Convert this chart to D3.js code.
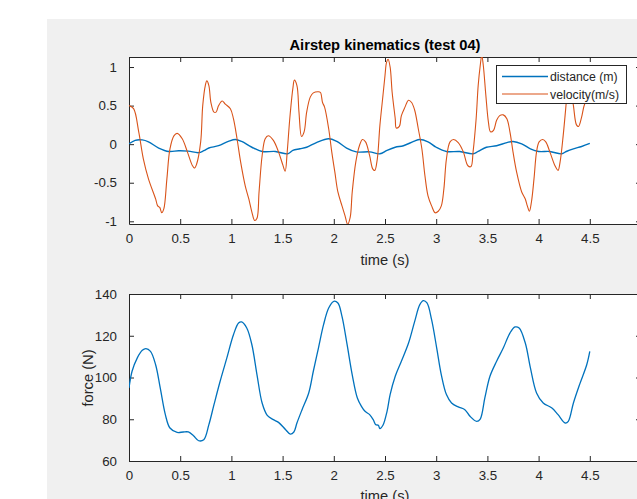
<!DOCTYPE html>
<html>
<head>
<meta charset="utf-8">
<script src="https://cdn.jsdelivr.net/npm/d3@7"></script>
<style>
  body { margin: 0; background: #fff; }
  svg { display: block; font-family: "Liberation Sans", Arial, sans-serif; }
</style>
</head>
<body>
<svg id="chart" width="637" height="499"></svg>
<script>
// velocity (m/s)
var velT = [0,0.045,0.095,0.14,0.19,0.26,0.28,0.30,0.32,0.34,0.37,0.40,0.44,0.47,0.52,0.57,0.62,0.64,0.66,0.70,
  0.72,0.745,0.76,0.78,0.80,0.83,0.85,0.875,0.91,0.94,0.99,1.02,1.055,1.09,1.135,1.17,1.20,1.227,1.25,1.27,
  1.30,1.33,1.36,1.41,1.46,1.50,1.525,1.545,1.57,1.60,1.615,1.64,1.66,1.685,1.71,1.735,1.77,1.80,1.85,1.87,
  1.89,1.91,1.95,1.98,2.01,2.04,2.08,2.11,2.135,2.16,2.18,2.215,2.25,2.28,2.31,2.35,2.38,2.40,2.425,2.45,
  2.48,2.50,2.515,2.53,2.55,2.57,2.60,2.61,2.64,2.66,2.695,2.73,2.76,2.79,2.825,2.86,2.89,2.92,2.955,2.99,
  3.02,3.05,3.075,3.10,3.135,3.17,3.215,3.265,3.31,3.34,3.36,3.39,3.41,3.43,3.445,3.46,3.485,3.51,3.53,3.56,
  3.59,3.62,3.655,3.69,3.72,3.75,3.785,3.835,3.87,3.89,3.91,3.93,3.955,3.98,4.005,4.04,4.07,4.11,4.16,4.19,
  4.21,4.24,4.27,4.29,4.31,4.34,4.37,4.39,4.42,4.45,4.50];
var velocity = [0.50,0.46,0.16,-0.19,-0.45,-0.71,-0.80,-0.82,-0.89,-0.84,-0.45,-0.06,0.11,0.14,0.07,-0.10,-0.28,-0.31,-0.26,0.03,
  0.50,0.76,0.82,0.76,0.54,0.415,0.415,0.50,0.56,0.52,0.46,0.33,0.07,-0.23,-0.54,-0.71,-0.88,-0.99,-0.96,-0.62,
  -0.15,0.07,0.11,0.05,-0.10,-0.26,-0.35,-0.10,0.33,0.72,0.83,0.76,0.415,0.10,0.16,0.415,0.61,0.665,0.68,0.67,
  0.54,0.48,0.20,-0.10,-0.36,-0.62,-0.80,-0.93,-1.04,-0.95,-0.62,-0.23,-0.02,0.06,0.03,-0.15,-0.32,-0.34,-0.19,0.24,
  0.63,0.89,1.06,1.10,1.00,0.67,0.33,0.21,0.23,0.37,0.48,0.57,0.54,0.44,0.20,-0.06,-0.41,-0.67,-0.80,-0.89,
  -0.87,-0.80,-0.58,-0.19,0.03,0.06,0.02,-0.10,-0.28,-0.29,-0.10,0.33,0.76,1.02,1.15,1.02,0.63,0.285,0.16,0.18,
  0.31,0.37,0.38,0.33,0.16,-0.10,-0.36,-0.62,-0.71,-0.80,-0.87,-0.75,-0.45,-0.10,0.03,0.06,0.03,-0.10,-0.28,-0.34,
  -0.23,0.11,0.54,0.85,0.75,0.50,0.25,0.23,0.35,0.52,0.62];

// distance (m), blue trace
var distT = [0,0.06,0.13,0.19,0.29,0.39,0.485,0.58,0.68,0.73,0.78,0.875,0.97,1.04,1.10,1.20,1.30,1.43,1.55,1.60,
  1.67,1.735,1.83,1.95,2.03,2.125,2.22,2.35,2.45,2.52,2.60,2.68,2.78,2.84,2.92,3.00,3.10,3.23,3.36,3.41,
  3.49,3.59,3.69,3.75,3.835,3.92,4.00,4.11,4.225,4.27,4.34,4.42,4.50];
var distance = [0.005,0.05,0.055,0.03,-0.05,-0.095,-0.085,-0.09,-0.11,-0.085,-0.05,-0.02,0.035,0.06,0.035,-0.04,-0.095,-0.095,-0.125,-0.08,
  -0.06,-0.04,0.02,0.07,0.035,-0.05,-0.10,-0.10,-0.125,-0.08,-0.04,-0.02,0.035,0.06,0.03,-0.04,-0.095,-0.095,-0.125,-0.095,
  -0.04,-0.02,0.02,0.035,0.005,-0.06,-0.095,-0.095,-0.125,-0.095,-0.06,-0.03,0.01];

// force (N), lower panel
var forceT = [0,0.03,0.08,0.13,0.165,0.21,0.26,0.305,0.355,0.40,0.47,0.53,0.58,0.63,0.68,0.73,0.78,0.83,0.89,0.955,
  1.02,1.07,1.10,1.15,1.20,1.25,1.30,1.35,1.41,1.46,1.53,1.575,1.61,1.64,1.69,1.755,1.80,1.85,1.90,1.95,
  2.00,2.04,2.08,2.13,2.18,2.23,2.27,2.305,2.35,2.385,2.41,2.435,2.45,2.48,2.52,2.55,2.60,2.66,2.73,2.79,
  2.84,2.875,2.91,2.955,3.005,3.05,3.10,3.15,3.215,3.28,3.33,3.395,3.43,3.475,3.525,3.59,3.655,3.72,3.77,3.81,
  3.87,3.92,3.98,4.045,4.13,4.19,4.26,4.29,4.34,4.40,4.47,4.50];
var force = [95.0,103,109.3,113,113.8,112.5,106.1,95,82.2,75.8,73.7,73.9,73.9,72.1,69.7,70.2,77.4,87,98.2,109.3,
  120.5,126.1,126.6,123.7,115.7,101.3,87.8,81.9,79.8,78.5,75,72.9,73.9,78.2,84.6,92.6,103,114.1,125.3,133.3,
  136.5,135.7,129.3,115.7,101.3,90.2,86.2,83.8,82.2,79.8,77.4,77.1,75.5,77.1,83.8,91.8,100.6,107.8,116.5,126.9,
  134.9,136.8,135.7,127.7,114.1,101.3,91.8,87.8,85.9,84.6,81.4,79,80.1,90.2,100.6,107.8,114.1,121.3,124.2,123.7,
  116.5,104.6,92.6,87.8,85.4,82.2,78.2,79,87.8,96.6,106.1,112.5];

var xTicks = [0,0.5,1,1.5,2,2.5,3,3.5,4,4.5,5];
var velTicks = [-1,-0.5,0,0.5,1];
var forceTicks = [60,80,100,120,140];

var blue = "#0072BD", orange = "#D95319", axisCol = "#262626";
var svg = d3.select("#chart");

svg.append("rect")
  .attr("x", 47).attr("y", 19)
  .attr("width", 637 - 47).attr("height", 499 - 19)
  .attr("fill", "#F0F0F0");

function zip(a, b) {
  return a.map(function(d, i) { return [d, b[i]]; });
}

function panel(id, top, bottom, yDomain, yTicks) {
  var x = d3.scaleLinear().domain([0, 5]).range([129, 641]);
  var y = d3.scaleLinear().domain(yDomain).range([bottom, top]);
  var g = svg.append("g");

  g.append("rect")
    .attr("x", x.range()[0]).attr("y", top)
    .attr("width", x.range()[1] - x.range()[0]).attr("height", bottom - top)
    .attr("fill", "white");

  svg.append("clipPath").attr("id", id)
    .append("rect")
    .attr("x", x.range()[0]).attr("y", top)
    .attr("width", x.range()[1] - x.range()[0]).attr("height", bottom - top);

  var fmt = function(d) { return String(d); };
  // the label of the last tick falls outside the window
  var xfmt = function(d) { return d >= 5 ? "" : String(d); };

  var bot = g.append("g").attr("transform", "translate(0," + bottom + ")")
    .call(d3.axisBottom(x).tickValues(xTicks).tickSizeInner(-5).tickSizeOuter(0).tickPadding(10).tickFormat(xfmt));
  var topAx = g.append("g").attr("transform", "translate(0," + top + ")")
    .call(d3.axisTop(x).tickValues(xTicks).tickSizeInner(-5).tickSizeOuter(0).tickFormat(""));
  var left = g.append("g").attr("transform", "translate(" + x.range()[0] + ",0)")
    .call(d3.axisLeft(y).tickValues(yTicks).tickSizeInner(-5).tickSizeOuter(0).tickPadding(12).tickFormat(fmt));
  var right = g.append("g").attr("transform", "translate(" + x.range()[1] + ",0)")
    .call(d3.axisRight(y).tickValues(yTicks).tickSizeInner(-5).tickSizeOuter(0).tickFormat(""));

  [bot, topAx, left, right].forEach(function(a) {
    a.select(".domain").attr("stroke", axisCol).attr("stroke-width", 1);
    a.selectAll(".tick line").attr("stroke", axisCol);
    a.selectAll(".tick text").attr("fill", axisCol).style("font-size", "13.3px")
      .style("font-family", "'Liberation Sans', Arial, sans-serif");
  });

  return { x: x, y: y, g: g, clip: "url(#" + id + ")" };
}

// upper panel: kinematics
var p1 = panel("clipTop", 57, 224, [-1.035, 1.13], velTicks);
var line1 = d3.line()
  .x(function(d) { return p1.x(d[0]); })
  .y(function(d) { return p1.y(d[1]); })
  .curve(d3.curveCatmullRom.alpha(0.5));

var plot1 = p1.g.append("g").attr("clip-path", p1.clip);
plot1.append("path")
  .datum(zip(distT, distance))
  .attr("d", line1)
  .attr("fill", "none")
  .attr("stroke", blue)
  .attr("stroke-width", 1.4);
plot1.append("path")
  .datum(zip(velT, velocity))
  .attr("d", line1)
  .attr("fill", "none")
  .attr("stroke", orange)
  .attr("stroke-width", 1.1);

svg.append("text")
  .attr("x", 385).attr("y", 50)
  .attr("text-anchor", "middle")
  .style("font-weight", "bold")
  .style("font-size", "14.7px")
  .attr("fill", "#000")
  .text("Airstep kinematics (test 04)");

svg.append("text")
  .attr("x", 385).attr("y", 265)
  .attr("text-anchor", "middle")
  .style("font-size", "14.7px")
  .attr("fill", axisCol)
  .text("time (s)");

// legend
var legendItems = ["distance (m)", "velocity(m/s)"];
var legendColors = [blue, orange];
var lg = svg.append("g");
lg.append("rect")
  .attr("x", 496.5).attr("y", 65.5)
  .attr("width", 130).attr("height", 38)
  .attr("fill", "white")
  .attr("stroke", axisCol)
  .attr("stroke-width", 1);
legendItems.forEach(function(name, i) {
  var yy = 76.5 + i * 17.5;
  lg.append("line")
    .attr("x1", 502).attr("x2", 548)
    .attr("y1", yy).attr("y2", yy)
    .attr("stroke", legendColors[i])
    .attr("stroke-width", i === 0 ? 1.4 : 1.1);
  lg.append("text")
    .attr("x", 550).attr("y", yy + 4.5)
    .style("font-size", "12.3px")
    .attr("fill", axisCol)
    .text(name);
});

// lower panel: force
var p2 = panel("clipBottom", 294, 461, [60, 140], forceTicks);
var line2 = d3.line()
  .x(function(d) { return p2.x(d[0]); })
  .y(function(d) { return p2.y(d[1]); })
  .curve(d3.curveCatmullRom.alpha(0.5));

p2.g.append("g").attr("clip-path", p2.clip)
  .append("path")
  .datum(zip(forceT, force))
  .attr("d", line2)
  .attr("fill", "none")
  .attr("stroke", blue)
  .attr("stroke-width", 1.3);

svg.append("text")
  .attr("transform", "translate(93,378) rotate(-90)")
  .attr("text-anchor", "middle")
  .style("font-size", "14.7px")
  .attr("fill", axisCol)
  .text("force (N)");

svg.append("text")
  .attr("x", 385).attr("y", 501)
  .attr("text-anchor", "middle")
  .style("font-size", "14.7px")
  .attr("fill", axisCol)
  .text("time (s)");
</script>
</body>
</html>
